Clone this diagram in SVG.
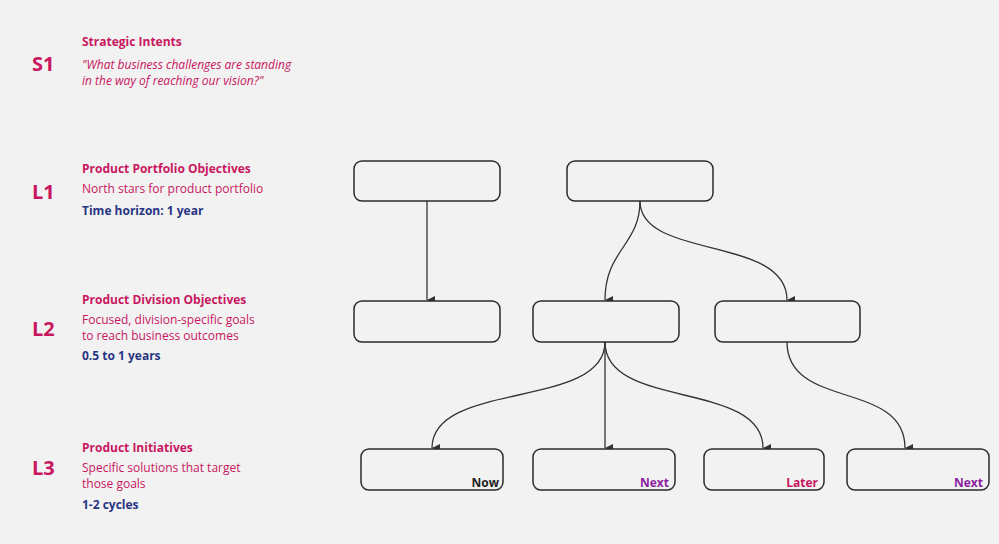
<svg xmlns="http://www.w3.org/2000/svg" width="999" height="544" viewBox="0 0 999 544">
<style>
text{font-family:"Open Sans","Liberation Sans",sans-serif}
.lv{font-size:20px;font-weight:700;fill:#c8175f}
.h{font-size:12px;font-weight:700;fill:#c8175f}
.d{font-size:12px;fill:#c8175f}
.t{font-size:12px;font-weight:700;fill:#283583}
.b{fill:#f2f2f2;stroke:#2b2b2b;stroke-width:1.5}
.c path{fill:none;stroke:#333;stroke-width:1.3}
.tag{font-size:12px;font-weight:700;text-anchor:end}
</style>
<defs><marker id="a" markerWidth="10" markerHeight="10" refX="5" refY="8" orient="auto" markerUnits="userSpaceOnUse" viewBox="0 0 10 10"><path d="M1,0 L9,0 L5,8 Z" fill="#333" transform="rotate(-90 5 5) rotate(90 5 5)"/></marker></defs>
<rect width="999" height="544" fill="#f2f2f2"/>
<g id="labels">
<text class="lv" x="32" y="71">S1</text>
<text class="h" x="82" y="46">Strategic Intents</text>
<text class="d" x="82" y="69" font-style="italic">"What business challenges are standing</text>
<text class="d" x="82" y="85" font-style="italic">in the way of reaching our vision?"</text>
<text class="lv" x="32" y="199">L1</text>
<text class="h" x="82" y="173">Product Portfolio Objectives</text>
<text class="d" x="82" y="193">North stars for product portfolio</text>
<text class="t" x="82" y="215">Time horizon: 1 year</text>
<text class="lv" x="32" y="336">L2</text>
<text class="h" x="82" y="304">Product Division Objectives</text>
<text class="d" x="82" y="324">Focused, division-specific goals</text>
<text class="d" x="82" y="340">to reach business outcomes</text>
<text class="t" x="82" y="360">0.5 to 1 years</text>
<text class="lv" x="32" y="475">L3</text>
<text class="h" x="82" y="452">Product Initiatives</text>
<text class="d" x="82" y="472">Specific solutions that target</text>
<text class="d" x="82" y="488">those goals</text>
<text class="t" x="82" y="509">1-2 cycles</text>
</g>
<g class="c" id="connectors">
<path d="M427,201 L427,300" marker-end="url(#a)"/>
<path d="M640,201 C640,245 605,250 605,300" marker-end="url(#a)"/>
<path d="M640,201 C640,260 787,235 787,300" marker-end="url(#a)"/>
<path d="M605,342 C605,410 432,380 432,448" marker-end="url(#a)"/>
<path d="M605,342 L605,448" marker-end="url(#a)"/>
<path d="M605,342 C605,410 763,380 763,448" marker-end="url(#a)"/>
<path d="M787,342 C787,410 905,380 905,448" marker-end="url(#a)"/>
</g>
<g id="n1"><rect class="b" x="354" y="161" width="146" height="40" rx="8"/></g>
<g id="n2"><rect class="b" x="567" y="161" width="146" height="40" rx="8"/></g>
<g id="n3"><rect class="b" x="354" y="301" width="146" height="41" rx="8"/></g>
<g id="n4"><rect class="b" x="533" y="301" width="146" height="41" rx="8"/></g>
<g id="n5"><rect class="b" x="715" y="301" width="145" height="41" rx="8"/></g>
<g id="n6"><rect class="b" x="361" y="449" width="142" height="41" rx="8"/><text class="tag" x="499" y="487" fill="#222">Now</text></g>
<g id="n7"><rect class="b" x="533" y="449" width="142" height="41" rx="8"/><text class="tag" x="669" y="487" fill="#8a1fa0">Next</text></g>
<g id="n8"><rect class="b" x="704" y="449" width="120" height="41" rx="8"/><text class="tag" x="818" y="487" fill="#c8175f">Later</text></g>
<g id="n9"><rect class="b" x="847" y="449" width="142" height="41" rx="8"/><text class="tag" x="983" y="487" fill="#8a1fa0">Next</text></g>
</svg>
